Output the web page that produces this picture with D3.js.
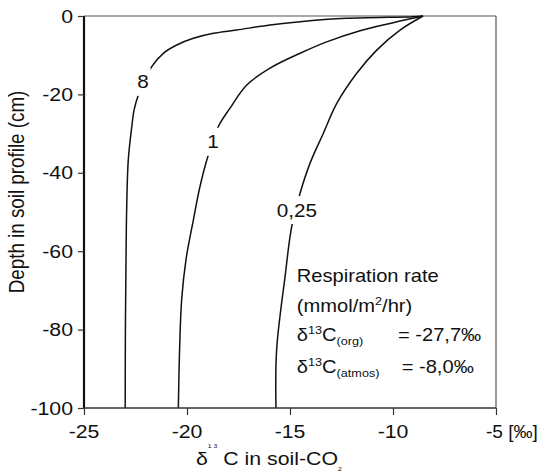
<!DOCTYPE html>
<html><head><meta charset="utf-8">
<script src="https://cdn.jsdelivr.net/npm/d3@7"></script>
<style>
html,body{margin:0;padding:0;background:#fff;}
text{font-family:"Liberation Sans",Arial,sans-serif;fill:#111;}
</style></head>
<body>
<svg id="chart" width="541" height="475"></svg>
<script>
// ---- data ----
const xTicks = [-25, -20, -15, -10, -5];
const xTickLabels = ["-25", "-20", "-15", "-10", "-5 [\u2030]"];
const yTicks = [0, -20, -40, -60, -80, -100];
const yTickLabels = ["0", "-20", "-40", "-60", "-80", "-100"];

const seriesNames = ["8", "1", "0,25"];
const delta8 = [-8.54, -9.03, -12.25, -14.51, -15.97, -17.59, -18.72, -19.69, -20.5, -21.15, -21.71, -22.36, -22.57, -22.68, -22.85, -22.93, -22.96, -22.99, -23.0];
const depth8 = [0, -0.18, -0.6, -1.45, -2.3, -3.57, -4.41, -5.69, -7.4, -9.52, -12.93, -20.15, -24.0, -28.2, -36.7, -49.5, -62.2, -80, -100];
const delta1 = [-8.54, -9.99, -11.6, -13.22, -14.51, -15.97, -17.1, -17.91, -18.48, -18.97, -19.37, -19.69, -20.05, -20.26, -20.36, -20.42];
const depth1 = [0, -1.7, -3.75, -6.6, -9.5, -13.3, -17.6, -23.5, -28.2, -35.5, -43.5, -52.0, -62.2, -72.4, -85.2, -100];
const delta025 = [-8.54, -9.66, -10.79, -11.76, -12.73, -13.38, -14.03, -14.51, -14.92, -15.24, -15.65, -15.68];
const depth025 = [0, -3.6, -8.7, -14.6, -22.3, -29.9, -37.6, -45.2, -53.8, -66.5, -85.2, -100];
// curve label anchors (data units)
const labelDelta = [-22.14, -18.74, -14.67];
const labelDepth = [-16.8, -32.1, -49.5];

// ---- layout ----
const svg = d3.select("#chart");
const SX = 1.15; // horizontal text stretch seen in the reference
const x = d3.scaleLinear().domain([-25, -5]).range([84, 496]);
const y = d3.scaleLinear().domain([0, -100]).range([16, 408]);

function stext(g, px, py, anchor, size, sx) {
  return g.append("text")
    .attr("transform", `translate(${px},${py}) scale(${sx || SX},1)`)
    .attr("text-anchor", anchor || "start")
    .style("font-size", (size || 18) + "px");
}

// frame (top and right)
svg.append("line").attr("x1", x(-25)).attr("x2", x(-5)).attr("y1", y(0)).attr("y2", y(0))
  .attr("stroke", "#555").attr("stroke-width", 1.2);
svg.append("line").attr("x1", x(-5)).attr("x2", x(-5)).attr("y1", y(0)).attr("y2", y(-100))
  .attr("stroke", "#555").attr("stroke-width", 1.2);

// curves
const series = [
  {name: seriesNames[0], pts: d3.zip(delta8, depth8)},
  {name: seriesNames[1], pts: d3.zip(delta1, depth1)},
  {name: seriesNames[2], pts: d3.zip(delta025, depth025)}
];
const line = d3.line().x(d => x(d[0])).y(d => y(d[1])).curve(d3.curveCatmullRom.alpha(0.5));
svg.append("g").selectAll("path").data(series).join("path")
  .attr("d", d => line(d.pts))
  .attr("fill", "none").attr("stroke", "#111").attr("stroke-width", 1.5);

// curve labels with white gap
series.forEach((s, i) => {
  const px = x(labelDelta[i]), py = y(labelDepth[i]);
  const t = stext(svg, px, py, "middle", 18).attr("dy", "0.36em").text(s.name);
  const bb = t.node().getBBox();
  const w = bb.width * SX + 4;
  svg.insert("rect", "text").attr("x", px - w / 2).attr("y", py - 14).attr("width", w).attr("height", 28)
    .attr("fill", "#fff");
});

// axes
const yAxis = d3.axisLeft(y).tickValues(yTicks).tickSize(6).tickFormat("");
const gy = svg.append("g").attr("transform", `translate(${x(-25)},0)`).call(yAxis);
gy.select(".domain").attr("stroke", "#111").attr("stroke-width", 2.2).attr("d", `M0,${y(0)}V${y(-100)}`);
gy.selectAll(".tick line").attr("stroke", "#333").attr("stroke-width", 1.2);
yTicks.forEach((v, i) => {
  stext(svg, x(-25) - 11, y(v), "end", 18.5).attr("dy", "0.36em").text(yTickLabels[i]);
});

const xAxis = d3.axisBottom(x).tickValues(xTicks).tickSize(7).tickFormat("");
const gx = svg.append("g").attr("transform", `translate(0,${y(-100)})`).call(xAxis);
gx.select(".domain").attr("stroke", "#333").attr("stroke-width", 1.6).attr("d", `M${x(-25)},0H${x(-5)}`);
gx.selectAll(".tick line").attr("stroke", "#333").attr("stroke-width", 1.2);
xTicks.forEach((v, i) => {
  const last = i === xTicks.length - 1;
  const t = last
    ? stext(svg, x(v) - 10, y(-100) + 30, "start", 18, 1.06)
    : stext(svg, x(v), y(-100) + 30, "middle", 18.5);
  t.text(xTickLabels[i]);
});

// axis titles
svg.append("text")
  .attr("transform", `translate(24,${(y(0) + y(-100)) / 2 - 20}) scale(${SX},1) rotate(-90)`)
  .attr("text-anchor", "middle").style("font-size", "18.8px")
  .text("Depth in soil profile (cm)");

const xt = stext(svg, 196, 465, "start", 18.5);
xt.append("tspan").text("\u03B4");
xt.append("tspan").attr("dy", -17).style("font-size", "6px").text("1 3");
xt.append("tspan").attr("dy", 17).style("font-size", "18.5px").text(" C in soil-CO");
xt.append("tspan").attr("dy", 6).style("font-size", "6px").text("2");

// annotation
const ax = x(-14.67);
const a1 = y(-67.9);
stext(svg, ax, a1, "start", 17.5).text("Respiration rate");
const l2 = stext(svg, ax, a1 + 29.5, "start", 17.5);
l2.append("tspan").text("(mmol/m");
l2.append("tspan").attr("dy", -7).style("font-size", "11px").text("2");
l2.append("tspan").attr("dy", 7).text("/hr)");

const l3 = stext(svg, ax, a1 + 59, "start", 17.5);
l3.append("tspan").text("\u03B4");
l3.append("tspan").attr("dy", -7).style("font-size", "11px").text("13");
l3.append("tspan").attr("dy", 7).text("C");
l3.append("tspan").attr("dy", 4).style("font-size", "11px").text("(org)");
stext(svg, x(-9.76), a1 + 59, "start", 17.5).text("= -27,7\u2030");

const l4 = stext(svg, ax, a1 + 91, "start", 17.5);
l4.append("tspan").text("\u03B4");
l4.append("tspan").attr("dy", -7).style("font-size", "11px").text("13");
l4.append("tspan").attr("dy", 7).text("C");
l4.append("tspan").attr("dy", 4).style("font-size", "11px").text("(atmos)");
stext(svg, x(-9.58), a1 + 91, "start", 17.5).text("= -8,0\u2030");
</script>
</body></html>
